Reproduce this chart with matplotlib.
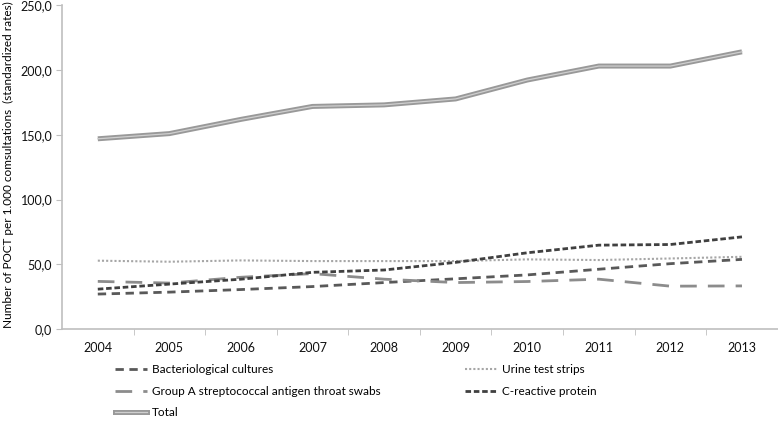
import matplotlib.pyplot as plt
from matplotlib.ticker import FixedLocator, FuncFormatter
from matplotlib.lines import Line2D
from matplotlib.legend_handler import HandlerTuple

years = ["2004", "2005", "2006", "2007", "2008", "2009", "2010", "2011", "2012", "2013"]
bacterio = [27.0, 28.5, 30.5, 32.8, 35.9, 38.8, 41.8, 46.2, 50.5, 53.8]
urine = [52.8, 52.0, 53.0, 52.5, 52.5, 52.5, 53.8, 53.3, 54.5, 55.8]
strep_a = [36.8, 35.5, 40.0, 42.8, 38.5, 35.9, 36.7, 38.5, 33.1, 33.3]
crp = [30.8, 34.7, 38.5, 43.8, 45.6, 51.5, 58.9, 64.8, 65.3, 71.2]
total = [147.0, 151.0, 162.0, 172.0, 173.2, 177.8, 192.4, 203.2, 203.2, 214.2]

plt.rcParams['font.family'] = ['Lato', 'DejaVu Sans']

fig = plt.figure(figsize=(7.78, 4.23), dpi=100)
ax = fig.add_axes([0.0797, 0.2222, 0.92, 0.7648])
x = list(range(len(years)))

l_bact, = ax.plot(x, bacterio, color='#595959', lw=2, linestyle=(0, (3, 2)))
l_urine, = ax.plot(x, urine, color='#a6a6a6', lw=1.5, linestyle=(0, (1, 1)))
l_gas, = ax.plot(x, strep_a, color='#8c8c8c', lw=2, linestyle=(0, (6, 4)))
l_crp, = ax.plot(x, crp, color='#404040', lw=2, linestyle=(0, (2, 1)))
# total drawn as a double line: thick gray with a light core
ax.plot(x, total, color='#999999', lw=3.6, solid_capstyle='butt')
ax.plot(x, total, color='#cfcfcf', lw=0.9)

ax.set_xlim(-0.5, 9.5)
ax.set_ylim(0, 250)
ax.set_xticks(x)
ax.set_xticklabels(years)
ax.xaxis.set_minor_locator(FixedLocator([i + 0.5 for i in range(10)]))
ax.tick_params(axis='x', which='major', length=0, labelsize=9, pad=9, labelcolor='#111111')
ax.tick_params(axis='x', which='minor', length=4, color='#bfbfbf')
ax.set_yticks([0, 50, 100, 150, 200, 250])
ax.yaxis.set_major_formatter(FuncFormatter(lambda v, p: f"{v:.1f}".replace('.', ',')))
ax.tick_params(axis='y', length=4, color='#bfbfbf', labelsize=9, pad=3, labelcolor='#111111')

for side in ['top', 'right']:
    ax.spines[side].set_visible(False)
for side in ['left', 'bottom']:
    ax.spines[side].set_color('#bfbfbf')
    ax.spines[side].set_linewidth(1.2)

fig.text(0.011, 0.61, "Number of POCT per 1.000 comsultations  (standardized rates)",
         rotation=90, ha='center', va='center', fontsize=8.5)

tot_outer = Line2D([], [], color='#999999', lw=3.6)
tot_inner = Line2D([], [], color='#cfcfcf', lw=0.9)
handles = [l_bact, l_gas, (tot_outer, tot_inner), l_urine, l_crp]
labels = ["Bacteriological cultures", "Group A streptococcal antigen throat swabs", "Total",
          "Urine test strips", "C-reactive protein"]
fig.legend(handles, labels, ncol=2, loc='upper left', bbox_to_anchor=(0.148, 0.139),
           frameon=False, fontsize=8.5, handlelength=2.7, handletextpad=0.4,
           columnspacing=7.2, labelspacing=0.9, borderaxespad=0, borderpad=0,
           handler_map={tuple: HandlerTuple(ndivide=1, pad=0)})

fig.savefig('out.png', dpi=100)
